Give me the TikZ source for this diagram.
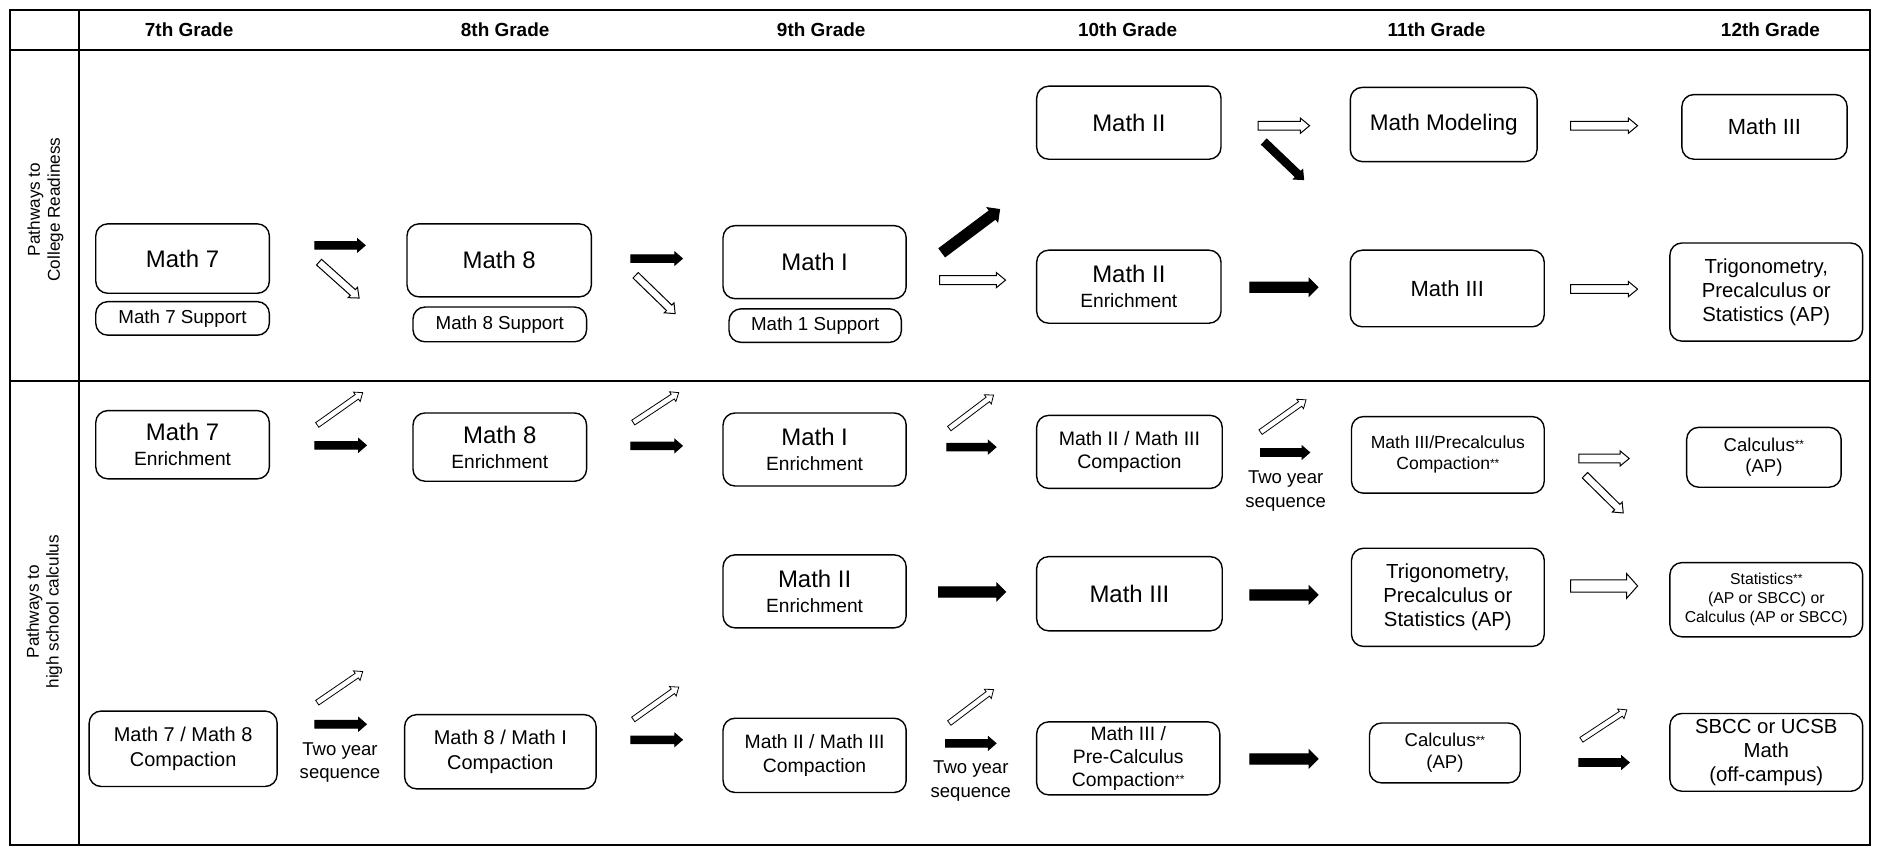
\documentclass[tikz,border=0pt]{standalone}
\usepackage{fontspec}
\setmainfont{Liberation Sans}
\usetikzlibrary{calc,positioning}

\tikzset{arr/shaft/.initial=2pt, arr/head/.initial=3.5pt, arr/len/.initial=4pt}
\newcommand{\arrS}{\pgfkeysvalueof{/tikz/arr/shaft}}
\newcommand{\arrH}{\pgfkeysvalueof{/tikz/arr/head}}
\newcommand{\arrL}{\pgfkeysvalueof{/tikz/arr/len}}
\newcommand{\blockarrow}[3][]{%
  \filldraw[line width=0.5pt, line join=miter, #1]
    let \p1=($(#3)-(#2)$), \n1={atan2(\y1,\x1)}, \n2={veclen(\x1,\y1)-\arrL} in
    ($(#2)+({\n1+90}:\arrS)$) -- ($(#2)+({\n1}:{\n2*1pt})+({\n1+90}:\arrS)$)
    -- ($(#2)+({\n1}:{\n2*1pt})+({\n1+90}:\arrH)$) -- (#3)
    -- ($(#2)+({\n1}:{\n2*1pt})+({\n1-90}:\arrH)$)
    -- ($(#2)+({\n1}:{\n2*1pt})+({\n1-90}:\arrS)$)
    -- ($(#2)+({\n1-90}:\arrS)$) -- cycle;
}
\newcommand{\stars}{\raisebox{0.25ex}{\fontsize{6}{6}\selectfont**}}

\begin{document}
\begin{tikzpicture}[x=0.6pt, y=-0.6pt,
    frame/.style={line width=1pt},
    box/.style={draw, rounded corners=6pt, line width=0.7pt, align=center, inner sep=0pt},
    sz/.style 2 args={minimum width=#1*0.6pt, minimum height=#2*0.6pt},
    fs/.style 2 args={font=\fontsize{#1}{#2}\selectfont},
    grade/.style={font=\bfseries\fontsize{9.5}{11}\selectfont},
    blk/.style={fill=black, arr/shaft=1.9pt, arr/head=3.3pt, arr/len=3.8pt},
    blkthick/.style={fill=black, arr/shaft=2.6pt, arr/head=4.4pt, arr/len=4.4pt},
    wht/.style={fill=white, arr/shaft=2.2pt, arr/head=3.8pt, arr/len=4.6pt},
    whtthick/.style={fill=white, arr/shaft=3.1pt, arr/head=6.2pt, arr/len=5.5pt},
    whtdiag/.style={fill=white, arr/shaft=1.9pt, arr/head=3.5pt, arr/len=4.2pt},
    whtthin/.style={fill=white, line width=0.4pt, arr/shaft=1.4pt, arr/head=2.9pt, arr/len=3.6pt}]
  \useasboundingbox (0,0) rectangle (1568,719);

  \draw[frame] (8,8) rectangle (1562,706);
  \draw[frame] (8,42) -- (1562,42);
  \draw[frame] (8,318) -- (1562,318);
  \draw[frame] (66,8) -- (66,706);

  \foreach \g/\x in {7th/158, 8th/422, 9th/686, 10th/942, 11th/1200, 12th/1479}
    \node[grade] (g\g) at (\x,25) {\g\ Grade};

  \node[rotate=90, fs={8.6}{10}, align=center] (college) at (38,175) {Pathways to\\College Readiness};
  \node[rotate=90, fs={8.6}{10}, align=center] (calculus) at (37,511) {Pathways to\\high school calculus};

  \node[box, sz={145}{58}, fs={12}{14}] (m7) at (152.5,216) {Math 7};
  \node[box, sz={145}{28}, fs={9.4}{11}] (m7s) at (152.5,266) {Math 7 Support};
  \node[box, sz={154}{61}, fs={12}{14}] (m8) at (417,217.5) {Math 8};
  \node[box, sz={145}{29}, fs={9.4}{11}] (m8s) at (417.5,271) {Math 8 Support};
  \node[box, sz={153}{61}, fs={12}{14}] (m1) at (680.5,219) {Math I};
  \node[box, sz={144}{28}, fs={9.4}{11}] (m1s) at (681,272) {Math 1 Support};
  \node[box, sz={154}{61}, fs={12}{14}] (m2) at (943,102.5) {Math II};
  \node[box, sz={154}{61}, fs={12}{12.6}] (m2e) at (943,239.5) {Math II\\{\fontsize{9.6}{12}\selectfont Enrichment}};
  \node[box, sz={156}{62}, fs={11.3}{13}] (mmod) at (1206,104) {Math Modeling};
  \node[box, sz={162}{64}, fs={11}{13}] (m3) at (1209,241) {Math III};
  \node[box, sz={138}{54}, fs={11}{13}] (m3b) at (1474,106) {Math III};
  \node[box, sz={161}{82}, fs={10.2}{12}] (trig) at (1475.5,244) {Trigonometry,\\Precalculus or\\Statistics (AP)};

  \node[box, sz={145}{57}, fs={12}{12.6}] (m7e) at (152.5,371.5) {Math 7\\{\fontsize{9.6}{12}\selectfont Enrichment}};
  \node[box, sz={145}{57}, fs={12}{12.6}] (m8e) at (417.5,373.5) {Math 8\\{\fontsize{9.6}{12}\selectfont Enrichment}};
  \node[box, sz={153}{61}, fs={12}{12.6}] (m1e) at (680.5,375.5) {Math I\\{\fontsize{9.6}{12}\selectfont Enrichment}};
  \node[box, sz={155}{61}, fs={9.8}{11.8}] (m23c) at (943.5,377.5) {Math II / Math III\\Compaction};
  \node[box, sz={161}{64}, fs={8.8}{10.5}] (m3pc) at (1209.5,380) {Math III/Precalculus\\Compaction\stars};
  \node[box, sz={129}{50}, fs={9.3}{10.9}] (calc) at (1473.5,382) {Calculus\stars\\(AP)};

  \node[box, sz={153}{61}, fs={12}{12.6}] (m2e9) at (680.5,494) {Math II\\{\fontsize{9.6}{12}\selectfont Enrichment}};
  \node[box, sz={155}{62}, fs={12}{14}] (m3t) at (943.5,496) {Math III};
  \node[box, sz={161}{82}, fs={10.2}{12}] (trig2) at (1209.5,499) {Trigonometry,\\Precalculus or\\Statistics (AP)};
  \node[box, sz={161}{62}, fs={7.9}{9.6}] (stat) at (1475.5,501) {Statistics\stars\\(AP or SBCC) or\\Calculus (AP or SBCC)};

  \node[box, sz={157}{63}, fs={10}{12.5}] (m78c) at (153,625.5) {Math 7 / Math 8\\Compaction};
  \node[box, sz={160}{62}, fs={10}{12.5}] (m81c) at (418,628) {Math 8 / Math I\\Compaction};
  \node[box, sz={153}{62}, fs={9.7}{12}] (m23c9) at (680.5,631) {Math II / Math III\\Compaction};
  \node[box, sz={153}{61}, fs={9.7}{11.5}] (m3pcc) at (942.5,633.5) {Math III /\\Pre-Calculus\\Compaction\stars};
  \node[box, sz={126}{50}, fs={9.3}{10.9}] (calc2) at (1207,629) {Calculus\stars\\(AP)};
  \node[box, sz={161}{65}, fs={10.2}{12}] (sbcc) at (1475.5,628.5) {SBCC or UCSB\\Math\\(off-campus)};

  \node[fs={9.3}{12}, align=center] (seq1) at (284,637) {Two year\\sequence};
  \node[fs={9.3}{12}, align=center] (seq2) at (811,652.5) {Two year\\sequence};
  \node[fs={9.3}{12}, align=center] (seq3) at (1074,410) {Two year\\sequence};

  \foreach \a/\xa/\ya/\xb/\yb in {a1/263/205/305/205, a3/527/216/570/216, a8/1056/118.5/1089/150,
      b2/263/372/306/372, b4/527/372.5/570/372.5, b6/791/373.5/832/373.5, b8/1053/378/1094/378,
      d2/263/605/306/605, d4/527/618/570/618, d6/790/621/832/621, d9/1319/637/1361/637}{
    \coordinate (\a-s) at (\xa,\ya);
    \coordinate (\a-e) at (\xb,\yb);
    \blockarrow[blk]{\a-s}{\a-e}
  }
  \foreach \a/\xa/\ya/\xb/\yb in {a5/787/211/835/175, a9/1044/240/1101/240,
      c1/784/494.5/840/494.5, c2/1044/497/1101/497, d7/1044/634/1101/634}{
    \coordinate (\a-s) at (\xa,\ya);
    \coordinate (\a-e) at (\xb,\yb);
    \blockarrow[blkthick]{\a-s}{\a-e}
  }
  \foreach \a/\xa/\ya/\xb/\yb in {a6/785/234/840/234, a7/1051/105/1094/105, a10/1312/105/1368/105,
      a11/1312/241.5/1368/241.5, b9/1319/383/1361/383}{
    \coordinate (\a-s) at (\xa,\ya);
    \coordinate (\a-e) at (\xb,\yb);
    \blockarrow[wht]{\a-s}{\a-e}
  }
  \coordinate (c3-s) at (1312,489.5);
  \coordinate (c3-e) at (1368,489.5);
  \blockarrow[whtthick]{c3-s}{c3-e}
  \foreach \a/\xa/\ya/\xb/\yb in {a2/266.5/219/300/249, a4/531/230/564/262, b10/1324/397/1356/428.5}{
    \coordinate (\a-s) at (\xa,\ya);
    \coordinate (\a-e) at (\xb,\yb);
    \blockarrow[whtdiag]{\a-s}{\a-e}
  }
  \foreach \a/\xa/\ya/\xb/\yb in {b1/265/355/303/328, b3/529/353/567/328, b5/793/358/830/330,
      b7/1053/361/1091/334, d1/265/587/303/561, d3/529/601/567/574, d5/793/604/830/576,
      d8/1321/618/1359/593}{
    \coordinate (\a-s) at (\xa,\ya);
    \coordinate (\a-e) at (\xb,\yb);
    \blockarrow[whtthin]{\a-s}{\a-e}
  }
\end{tikzpicture}
\end{document}
